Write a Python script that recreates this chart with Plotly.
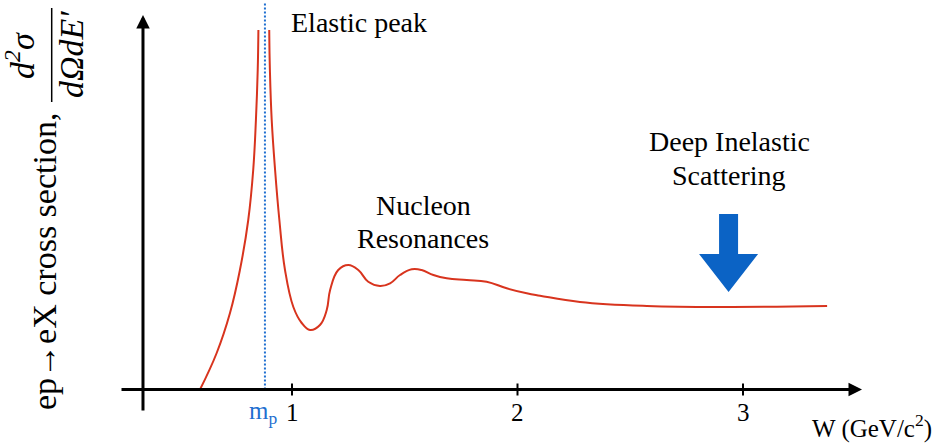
import plotly.graph_objects as go

# ---------------- data ----------------
# W in GeV/c^2, cross section in arbitrary units
W_elastic_rise = [0.592, 0.666, 0.725, 0.769, 0.806, 0.828, 0.840, 0.848, 0.851]
sigma_elastic_rise = [0.0, 0.365, 0.765, 1.195, 1.695, 2.195, 2.695, 3.195, 3.595]

W_tail = [0.899, 0.902, 0.910, 0.925, 0.944, 0.969, 1.006, 1.043, 1.080, 1.124,
          1.154, 1.169, 1.205, 1.250, 1.294, 1.338, 1.390, 1.435, 1.479, 1.531,
          1.575, 1.627, 1.686, 1.775, 1.863, 1.952, 2.041, 2.100, 2.277, 2.574,
          2.942, 3.373]
sigma_tail = [3.595, 3.195, 2.695, 2.195, 1.695, 1.195, 0.825, 0.665, 0.595, 0.645,
              0.795, 0.995, 1.195, 1.245, 1.195, 1.078, 1.035, 1.062, 1.145, 1.202,
              1.195, 1.145, 1.112, 1.095, 1.078, 1.012, 0.962, 0.938, 0.875, 0.835,
              0.825, 0.835]

proton_mass_W = 0.88          # where the m_p marker is drawn
proton_line_top = 3.865

tick_values = [1, 2, 3]
tick_labels = ["1", "2", "3"]

dis_arrow_W = 2.936
dis_arrow_sigma = 0.975

x_axis_span = [0.2373, 3.5277]
y_axis_W = 0.3392
y_axis_span = [-0.225, 3.745]

x_range = [-0.2949, 3.8603]
y_range = [-0.565, 3.895]

# ---------------- styling ----------------
RED = "#d8341e"
BLUE = "#1f6fd0"
ARROW_BLUE = "#0b63c5"
SERIF = "Liberation Serif"
W_PX, H_PX = 937, 446


def px(x):
    return x / W_PX


def py(y):
    return 1 - y / H_PX


fig = go.Figure()

curve_line = dict(color=RED, width=2, shape="spline", smoothing=1.2)
fig.add_trace(go.Scatter(x=W_elastic_rise, y=sigma_elastic_rise, mode="lines",
                         line=curve_line, hoverinfo="skip", showlegend=False))
fig.add_trace(go.Scatter(x=W_tail, y=sigma_tail, mode="lines",
                         line=curve_line, hoverinfo="skip", showlegend=False))
fig.add_trace(go.Scatter(x=[proton_mass_W, proton_mass_W], y=[0, proton_line_top],
                         mode="lines", line=dict(color=BLUE, width=2, dash="2px,2px"),
                         hoverinfo="skip", showlegend=False))

annotations = []
# axes with arrows
annotations.append(dict(x=x_axis_span[1], y=0, ax=x_axis_span[0], ay=0,
                        xref="x", yref="y", axref="x", ayref="y", text="",
                        showarrow=True, arrowhead=2, arrowsize=0.9, arrowwidth=3,
                        arrowcolor="black"))
annotations.append(dict(x=y_axis_W, y=y_axis_span[1], ax=y_axis_W, ay=y_axis_span[0],
                        xref="x", yref="y", axref="x", ayref="y", text="",
                        showarrow=True, arrowhead=2, arrowsize=0.9, arrowwidth=3,
                        arrowcolor="black"))

shapes = []
for tv, tl in zip(tick_values, tick_labels):
    shapes.append(dict(type="line", xref="x", yref="y", x0=tv, x1=tv,
                       ysizemode="pixel", yanchor=0, y0=-6, y1=6,
                       line=dict(color="black", width=2)))
    annotations.append(dict(x=tv, y=py(412), xref="x", yref="paper", text=tl,
                            showarrow=False, xanchor="center", yanchor="middle",
                            font=dict(family=SERIF, size=25, color="black")))

annotations.append(dict(x=proton_mass_W, y=py(412), xref="x", yref="paper",
                        text="m<sub>p</sub>", showarrow=False, xshift=-2,
                        xanchor="center", yanchor="middle",
                        font=dict(family=SERIF, size=25, color=BLUE)))
annotations.append(dict(x=px(872), y=py(426), xref="paper", yref="paper",
                        text="W (GeV/c<sup>2</sup>)", showarrow=False,
                        xanchor="center", yanchor="middle",
                        font=dict(family=SERIF, size=25, color="black")))


# region labels
def label(text, x, y, size=28):
    annotations.append(dict(x=px(x), y=py(y), xref="paper", yref="paper", text=text,
                            showarrow=False, xanchor="center", yanchor="middle",
                            font=dict(family=SERIF, size=size, color="black")))


label("Elastic peak", 359, 22)
label("Nucleon", 423, 205)
label("Resonances", 423, 238)
label("Deep Inelastic", 729, 141)
label("Scattering", 729, 175)

# DIS arrow (fixed pixel size, anchored at its tip)
shapes.append(dict(type="path", xref="x", yref="y", xsizemode="pixel", ysizemode="pixel",
                   xanchor=dis_arrow_W, yanchor=dis_arrow_sigma,
                   path="M 0 0 L -29.5 38 L -9.5 38 L -9.5 78 L 9.5 78 L 9.5 38 L 29.5 38 Z",
                   fillcolor=ARROW_BLUE, line=dict(width=0)))

# y-axis title: rotated text plus a hand-built fraction
annotations.append(dict(x=px(44), y=py(262), xref="paper", yref="paper",
                        text="ep\u2192eX cross section,", textangle=-90, showarrow=False,
                        xanchor="center", yanchor="middle",
                        font=dict(family=SERIF, size=34, color="black")))
annotations.append(dict(x=px(20), y=py(56), xref="paper", yref="paper",
                        text="d<sup>2</sup>\u03c3", textangle=-90, showarrow=False,
                        xanchor="center", yanchor="middle",
                        font=dict(family=SERIF, size=34, color="black", style="italic")))
annotations.append(dict(x=px(71), y=py(55), xref="paper", yref="paper",
                        text="d\u03a9dE\u2032", textangle=-90, showarrow=False,
                        xanchor="center", yanchor="middle",
                        font=dict(family=SERIF, size=34, color="black", style="italic")))
shapes.append(dict(type="line", xref="paper", yref="paper", x0=px(51.7), x1=px(51.7),
                   y0=py(8), y1=py(102), line=dict(color="black", width=1.5)))

fig.update_layout(
    width=W_PX, height=H_PX,
    margin=dict(l=0, r=0, t=0, b=0),
    paper_bgcolor="white", plot_bgcolor="white",
    xaxis=dict(range=x_range, visible=False, fixedrange=True),
    yaxis=dict(range=y_range, visible=False, fixedrange=True),
    annotations=annotations, shapes=shapes,
    showlegend=False,
)

fig.write_html("out.html", config={"displayModeBar": False},
               post_script="document.body.style.margin='0';")
